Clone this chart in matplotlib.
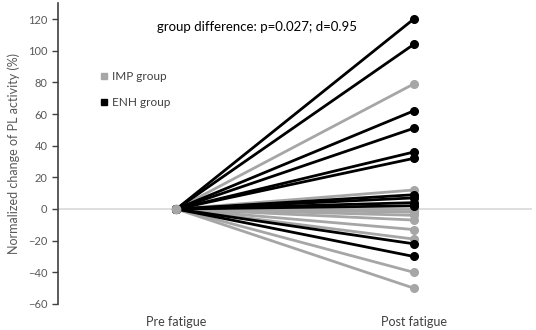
import matplotlib.pyplot as plt
from matplotlib.lines import Line2D

# normalized change (%) at post fatigue, pre fatigue is the 0 reference
timepoints = ["Pre fatigue", "Post fatigue"]
imp_post = [79, 12, 0, -2, -4, -7, -13, -19, -40, -50]
enh_post = [120, 104, 62, 51, 36, 32, 9, 7, 4, 2, -22, -30]
pre_value = 0
yticks = list(range(-60, 121, 20))

IMP_COLOR = "#a6a6a6"
ENH_COLOR = "#000000"
TEXT_COLOR = "#595959"

plt.rcParams["font.family"] = ["Lato", "DejaVu Sans"]

fig = plt.figure(figsize=(5.36, 3.30), dpi=100)
ax = fig.add_axes([0.108, 0.079, 0.885, 0.911])

x = [0, 1]
ax.axhline(0, color="#d9d9d9", lw=1.2, zorder=1)

for v in imp_post:
    ax.plot(x, [pre_value, v], color=IMP_COLOR, lw=2.0, marker="o", ms=5.5,
            solid_capstyle="round", zorder=2)
for v in enh_post:
    ax.plot(x, [pre_value, v], color=ENH_COLOR, lw=2.0, marker="o", ms=5.5,
            solid_capstyle="round", zorder=3)
# the shared starting point looks grey
ax.plot([0], [pre_value], "o", color=IMP_COLOR, ms=6, zorder=4)

ax.set_xlim(-0.5, 1.5)
ax.set_ylim(-60, 130)
ax.set_yticks(yticks)
ax.set_xticks([])
for xi, lab in zip(x, timepoints):
    ax.text(xi, -0.04, lab, transform=ax.get_xaxis_transform(), ha="center",
            va="top", fontsize=9, color="#404040")

for s in ["top", "right", "bottom"]:
    ax.spines[s].set_visible(False)
ax.spines["left"].set_color("#404040")
ax.spines["left"].set_linewidth(1.2)
ax.tick_params(axis="y", colors="#404040", labelcolor=TEXT_COLOR, labelsize=8,
               length=4, width=1)
ax.set_ylabel("Normalized change of PL activity (%)", fontsize=9, color=TEXT_COLOR,
              labelpad=6)

ax.text(0.42, 0.921, "group difference: p=0.027; d=0.95", transform=ax.transAxes,
        ha="center", va="center", fontsize=9.5, color="black")

handles = [
    Line2D([], [], ls="none", marker="s", ms=5, color=IMP_COLOR, label="IMP group"),
    Line2D([], [], ls="none", marker="s", ms=5, color=ENH_COLOR, label="ENH group"),
]
ax.legend(handles=handles, loc="upper left", bbox_to_anchor=(0.06, 0.81),
          frameon=False, fontsize=8.5, labelspacing=1.3, handletextpad=0.1,
          handlelength=1.2, labelcolor="#404040")

fig.savefig("out.png", dpi=100)
